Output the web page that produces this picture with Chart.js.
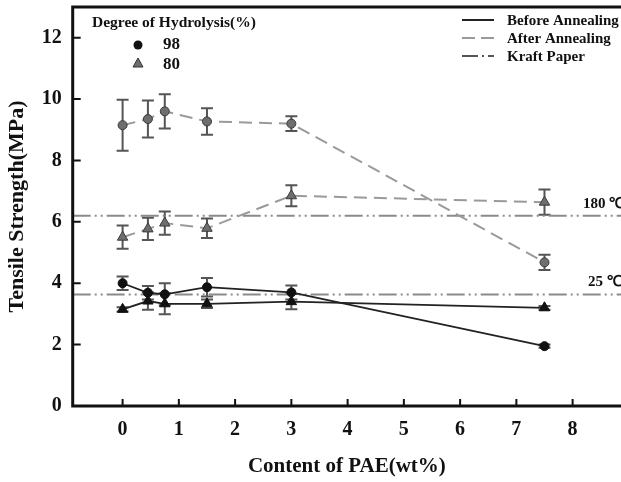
<!DOCTYPE html>
<html>
<head>
<meta charset="utf-8">
<script src="https://cdn.jsdelivr.net/npm/chart.js@4.4.0/dist/chart.umd.min.js"></script>
<style>
  html, body { margin: 0; padding: 0; background: #fff; overflow: hidden; }
  #wrap { width: 621px; height: 482px; }
</style>
</head>
<body>
<div id="wrap"><canvas id="tensileChart"></canvas></div>
<script>
// Content of PAE (wt%)
const paeContent = [0, 0.45, 0.75, 1.5, 3, 7.5];

// Degree of hydrolysis 98%
const after98 = [9.15, 9.35, 9.6, 9.27, 9.2, 4.68];
const after98Err = [0.83, 0.6, 0.56, 0.43, 0.24, 0.25];
const before98 = [4.0, 3.69, 3.64, 3.87, 3.7, 1.95];
const before98Err = [0.22, 0.22, 0.36, 0.3, 0.23, 0.05];

// Degree of hydrolysis 80%
const after80 = [5.5, 5.77, 5.96, 5.79, 6.85, 6.64];
const after80Err = [0.38, 0.36, 0.38, 0.32, 0.34, 0.41];
const before80 = [3.15, 3.42, 3.33, 3.33, 3.4, 3.2];
const before80Err = [0.07, 0.28, 0.34, 0.14, 0.25, 0.06];

// Kraft paper reference lines
const kraftLabels = ['180 \u2103', '25 \u2103'];
const kraftValues = [6.2, 3.63];

const xTicks = [0, 1, 2, 3, 4, 5, 6, 7, 8];
const yTicks = [0, 2, 4, 6, 8, 10, 12];
const X_MIN = -0.887, X_MAX = 8.86;

const serif = '"Liberation Serif", "Times New Roman", serif';
const ink = '#111';

function points(ys) {
    return paeContent.map((x, i) => ({ x: x, y: ys[i] }));
}

function kraftLine(v) {
    return {
        data: [{ x: X_MIN, y: v }, { x: X_MAX, y: v }],
        showLine: true,
        borderColor: '#8a8a8a',
        borderWidth: 2,
        borderDash: [18, 4, 2, 4, 2, 4],
        pointRadius: 0
    };
}

const grayPoint = { pointBackgroundColor: '#6e6e6e', pointBorderColor: '#3a3a3a', pointBorderWidth: 1 };
const blackPoint = { pointBackgroundColor: '#111', pointBorderColor: '#111', pointBorderWidth: 1 };

const datasets = [
    Object.assign({ data: points(after98), errors: after98Err, showLine: true, borderColor: '#9a9a9a', borderWidth: 2, borderDash: [13, 7], pointStyle: 'circle', pointRadius: 4.5 }, grayPoint),
    Object.assign({ data: points(after80), errors: after80Err, showLine: true, borderColor: '#9a9a9a', borderWidth: 2, borderDash: [13, 7], pointStyle: 'triangle', pointRadius: 6 }, grayPoint),
    Object.assign({ data: points(before98), errors: before98Err, showLine: true, borderColor: '#222', borderWidth: 1.8, pointStyle: 'circle', pointRadius: 4.5 }, blackPoint),
    Object.assign({ data: points(before80), errors: before80Err, showLine: true, borderColor: '#222', borderWidth: 1.8, pointStyle: 'triangle', pointRadius: 6 }, blackPoint),
    kraftLine(kraftValues[0]),
    kraftLine(kraftValues[1])
];

// error bars, frame, inner tick marks and the two legends
const decorations = {
    id: 'decorations',
    beforeDatasetsDraw(chart) {
        const ctx = chart.ctx;
        const xs = chart.scales.x, ys = chart.scales.y;
        ctx.save();
        ctx.strokeStyle = '#555';
        ctx.lineWidth = 2;
        chart.data.datasets.forEach(ds => {
            if (!ds.errors) return;
            ds.data.forEach((p, j) => {
                const e = ds.errors[j];
                const px = xs.getPixelForValue(p.x);
                const top = ys.getPixelForValue(p.y + e);
                const bot = ys.getPixelForValue(p.y - e);
                ctx.beginPath();
                ctx.moveTo(px, top); ctx.lineTo(px, bot);
                ctx.moveTo(px - 6, top); ctx.lineTo(px + 6, top);
                ctx.moveTo(px - 6, bot); ctx.lineTo(px + 6, bot);
                ctx.stroke();
            });
        });
        ctx.restore();
    },
    afterDraw(chart) {
        const ctx = chart.ctx;
        const a = chart.chartArea;
        const xs = chart.scales.x, ys = chart.scales.y;
        ctx.save();

        // frame (no right border, it runs off the picture)
        ctx.strokeStyle = ink;
        ctx.lineWidth = 3;
        ctx.beginPath();
        ctx.moveTo(a.right + 2, a.top); ctx.lineTo(a.left, a.top);
        ctx.lineTo(a.left, a.bottom); ctx.lineTo(a.right + 2, a.bottom);
        ctx.stroke();

        // tick marks pointing inward
        ctx.lineWidth = 2;
        ctx.beginPath();
        xTicks.forEach(v => {
            const px = xs.getPixelForValue(v);
            ctx.moveTo(px, a.bottom); ctx.lineTo(px, a.bottom - 7);
        });
        yTicks.forEach(v => {
            const py = ys.getPixelForValue(v);
            ctx.moveTo(a.left, py); ctx.lineTo(a.left + 8, py);
        });
        ctx.stroke();

        // kraft paper labels
        ctx.fillStyle = ink;
        ctx.font = 'bold 15px ' + serif;
        ctx.textBaseline = 'middle';
        ctx.textAlign = 'left';
        ctx.fillText(kraftLabels[0], 583, ys.getPixelForValue(kraftValues[0]) - 12);
        ctx.fillText(kraftLabels[1], 588, ys.getPixelForValue(kraftValues[1]) - 12);

        // left legend: degree of hydrolysis
        ctx.font = 'bold 15.5px ' + serif;
        ctx.fillText('Degree of Hydrolysis(%)', 92, 23);
        ctx.font = 'bold 17px ' + serif;
        ctx.fillText('98', 163, 45);
        ctx.fillText('80', 163, 65);
        ctx.fillStyle = '#111';
        ctx.beginPath();
        ctx.arc(138, 45, 4.5, 0, Math.PI * 2);
        ctx.fill();
        ctx.fillStyle = '#6e6e6e';
        ctx.strokeStyle = '#333';
        ctx.lineWidth = 1;
        ctx.beginPath();
        ctx.moveTo(138, 58); ctx.lineTo(143, 67); ctx.lineTo(133, 67); ctx.closePath();
        ctx.fill(); ctx.stroke();

        // right legend: line styles
        ctx.lineWidth = 2;
        ctx.strokeStyle = '#222';
        ctx.beginPath(); ctx.moveTo(462, 20); ctx.lineTo(494, 20); ctx.stroke();
        ctx.strokeStyle = '#9a9a9a';
        ctx.beginPath(); ctx.moveTo(462, 38); ctx.lineTo(475, 38); ctx.moveTo(481, 38); ctx.lineTo(494, 38); ctx.stroke();
        ctx.strokeStyle = '#555';
        ctx.beginPath(); ctx.moveTo(462, 56); ctx.lineTo(478, 56); ctx.moveTo(482, 56); ctx.lineTo(484, 56); ctx.moveTo(488, 56); ctx.lineTo(494, 56); ctx.stroke();
        ctx.fillStyle = ink;
        ctx.font = 'bold 15px ' + serif;
        ctx.fillText('Before Annealing', 507, 21);
        ctx.fillText('After Annealing', 507, 39);
        ctx.fillText('Kraft Paper', 507, 57);

        ctx.restore();
    }
};

new Chart(document.getElementById('tensileChart'), {
    type: 'scatter',
    data: { datasets: datasets },
    options: {
        responsive: true,
        maintainAspectRatio: false,
        animation: false,
        layout: { autoPadding: false, padding: { top: 7, right: 0, left: 0, bottom: 0 } },
        plugins: { legend: { display: false }, tooltip: { enabled: false } },
        scales: {
            x: {
                type: 'linear',
                min: X_MIN,
                max: X_MAX,
                afterBuildTicks: s => { s.ticks = xTicks.map(v => ({ value: v })); },
                afterFit: s => { s.height = 76; s.paddingLeft = 0; s.paddingRight = 0; },
                grid: { display: false, drawTicks: false },
                border: { display: false },
                ticks: { color: ink, padding: 12, maxRotation: 0, autoSkip: false, font: { family: serif, size: 20, weight: 'bold' } },
                title: { display: true, text: 'Content of PAE(wt%)', color: ink, padding: { top: 0, bottom: 3 }, font: { family: serif, size: 21, weight: 'bold' } }
            },
            y: {
                min: 0,
                max: 13,
                afterBuildTicks: s => { s.ticks = yTicks.map(v => ({ value: v })); },
                afterFit: s => { s.width = 72.7; s.paddingTop = 0; s.paddingBottom = 0; },
                grid: { display: false, drawTicks: false },
                border: { display: false },
                ticks: { color: ink, padding: 11, font: { family: serif, size: 20, weight: 'bold' } },
                title: { display: true, text: 'Tensile Strength(MPa)', color: ink, padding: { top: 4, bottom: 0 }, font: { family: serif, size: 22, weight: 'bold' } }
            }
        }
    },
    plugins: [decorations]
});
</script>
</body>
</html>
